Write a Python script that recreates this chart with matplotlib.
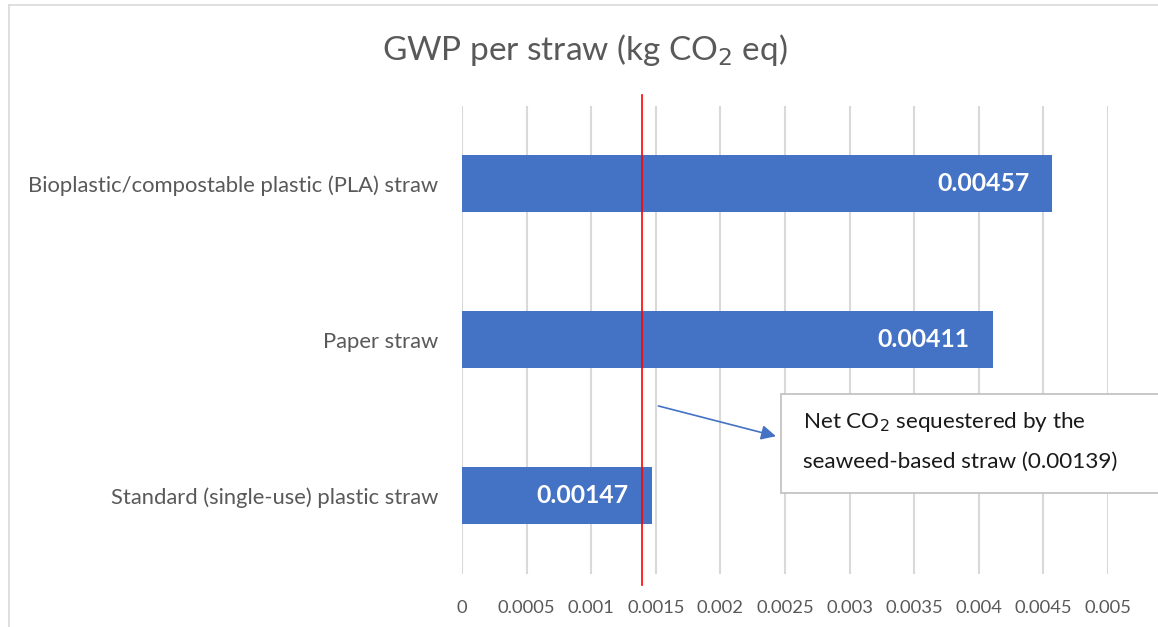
import matplotlib
matplotlib.use("Agg")
import matplotlib.pyplot as plt
from matplotlib.patches import Rectangle
from matplotlib.lines import Line2D

# Data
categories = [
    "Standard (single-use) plastic straw",
    "Paper straw",
    "Bioplastic/compostable plastic (PLA) straw",
]
gwp_values = [0.00147, 0.00411, 0.00457]
seaweed_net = 0.00139
x_ticks = [0, 0.0005, 0.001, 0.0015, 0.002, 0.0025, 0.003, 0.0035, 0.004, 0.0045, 0.005]
x_tick_labels = ["0", "0.0005", "0.001", "0.0015", "0.002", "0.0025", "0.003",
                 "0.0035", "0.004", "0.0045", "0.005"]

plt.rcParams["font.family"] = ["Lato", "DejaVu Sans"]

W, H = 1158, 627
fig = plt.figure(figsize=(W / 100, H / 100), dpi=100)
fig.patch.set_facecolor("white")

# plot area
ax = fig.add_axes([462 / W, 1 - 573.5 / H, (1108 - 462) / W, (573.5 - 105.5) / H])
ax.set_facecolor("white")

bar_color = "#4472C4"
grid_color = "#D9D9D9"
text_gray = "#595959"

ypos = list(range(len(categories)))
ax.barh(ypos, gwp_values, height=0.36, color=bar_color, zorder=3)

for y, v in zip(ypos, gwp_values):
    ax.text(v - 0.00018, y, f"{v:.5f}", ha="right", va="center",
            color="white", fontsize=17.8, fontweight="bold", zorder=4)

ax.set_xlim(0, 0.005)
ax.set_ylim(-0.5, 2.5)
ax.set_xticks(x_ticks)
ax.set_xticklabels(x_tick_labels)
ax.set_yticks(ypos)
ax.set_yticklabels(categories)
ax.tick_params(axis="x", length=0, pad=19, labelsize=13.2, labelcolor=text_gray)
ax.tick_params(axis="y", length=0, pad=17, labelsize=15.8, labelcolor=text_gray)
ax.xaxis.grid(True, color=grid_color, linewidth=1.5, zorder=0)
ax.set_axisbelow(True)
for s in ax.spines.values():
    s.set_visible(False)

# seaweed reference line, running a little past the plot area
ax.plot([seaweed_net, seaweed_net], [-0.025, 1.022], color="red", linewidth=1.2,
        transform=ax.get_xaxis_transform(), clip_on=False, zorder=5)

# title
fig.text(585 / W, 1 - 50 / H, "GWP per straw (kg CO$_2$ eq)", ha="center",
         va="center", fontsize=24, color=text_gray)

# chart frame (top and left edges)
fig.add_artist(Line2D([9 / W, 9 / W], [0, 1 - 5 / H], transform=fig.transFigure,
                      color=grid_color, linewidth=1.2))
fig.add_artist(Line2D([9 / W, 1], [1 - 5 / H, 1 - 5 / H], transform=fig.transFigure,
                      color=grid_color, linewidth=1.2))

# callout box
box = Rectangle((781 / W, 1 - 493 / H), (1200 - 781) / W, (493 - 394) / H,
                transform=fig.transFigure, facecolor="white", edgecolor="#BFBFBF",
                linewidth=1.2, zorder=6)
fig.add_artist(box)
fig.text(803 / W, 1 - 422 / H, "Net CO$_2$ sequestered by the", ha="left",
         va="center", fontsize=16.2, color="#1a1a1a", zorder=7)
fig.text(803 / W, 1 - 462 / H, "seaweed-based straw (0.00139)", ha="left",
         va="center", fontsize=16.2, color="#1a1a1a", zorder=7)

# arrow pointing at the callout
ax.annotate("", xy=(0.00243, 0.38), xytext=(0.00152, 0.574),
            arrowprops=dict(arrowstyle="-|>", color=bar_color, lw=1.2,
                            mutation_scale=22, shrinkA=0, shrinkB=0),
            annotation_clip=False, zorder=6)

fig.savefig("out.png", dpi=100, facecolor="white")
